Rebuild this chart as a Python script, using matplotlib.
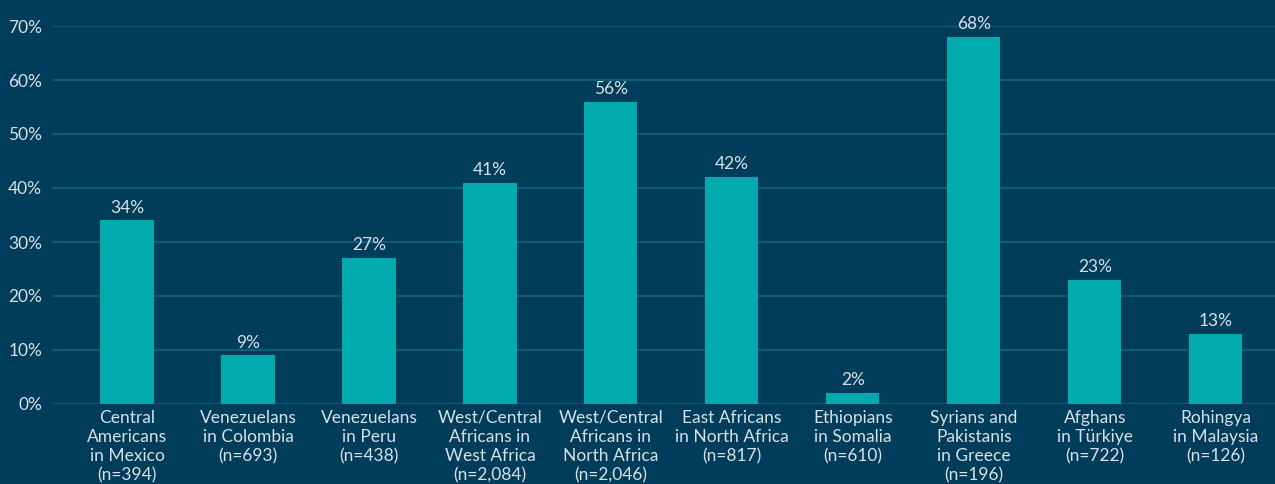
import matplotlib.pyplot as plt

categories = [
    "Central\nAmericans\nin Mexico\n(n=394)",
    "Venezuelans\nin Colombia\n(n=693)",
    "Venezuelans\nin Peru\n(n=438)",
    "West/Central\nAfricans in\nWest Africa\n(n=2,084)",
    "West/Central\nAfricans in\nNorth Africa\n(n=2,046)",
    "East Africans\nin North Africa\n(n=817)",
    "Ethiopians\nin Somalia\n(n=610)",
    "Syrians and\nPakistanis\nin Greece\n(n=196)",
    "Afghans\nin Türkiye\n(n=722)",
    "Rohingya\nin Malaysia\n(n=126)",
]
values = [34, 9, 27, 41, 56, 42, 2, 68, 23, 13]
yticks = [0, 10, 20, 30, 40, 50, 60, 70]

bg = "#003d5b"
bar_color = "#00aaad"
grid_color = "#0f5a76"
text_color = "#d8e0e6"

plt.rcParams['font.family'] = ['Lato', 'DejaVu Sans']

fig = plt.figure(figsize=(12.75, 4.84), dpi=100, facecolor=bg)
ax = fig.add_axes([52 / 1275, 80 / 484, 1 - 52 / 1275, (404 - 26) / 484])
ax.set_facecolor(bg)

x = list(range(len(categories)))
bars = ax.bar(x, values, width=0.44, color=bar_color, zorder=3)
for b, v in zip(bars, values):
    ax.text(b.get_x() + b.get_width() / 2, v + 0.9, f"{v}%", ha="center", va="bottom",
            color=text_color, fontsize=12.5, clip_on=False)

ax.set_ylim(0, 70)
ax.set_xlim(-0.62, 9.49)
ax.set_yticks(yticks)
ax.set_yticklabels([f"{t}%" for t in yticks])
ax.set_xticks(x)
ax.set_xticklabels(categories, linespacing=1.25)
ax.tick_params(axis="both", length=0, colors=text_color, labelsize=12.5)
ax.tick_params(axis="y", pad=7)
ax.tick_params(axis="x", pad=4)
ax.grid(axis="y", color=grid_color, linewidth=1.6, zorder=0)
for s in ax.spines.values():
    s.set_visible(False)

fig.savefig("out.png", dpi=100, facecolor=bg)
